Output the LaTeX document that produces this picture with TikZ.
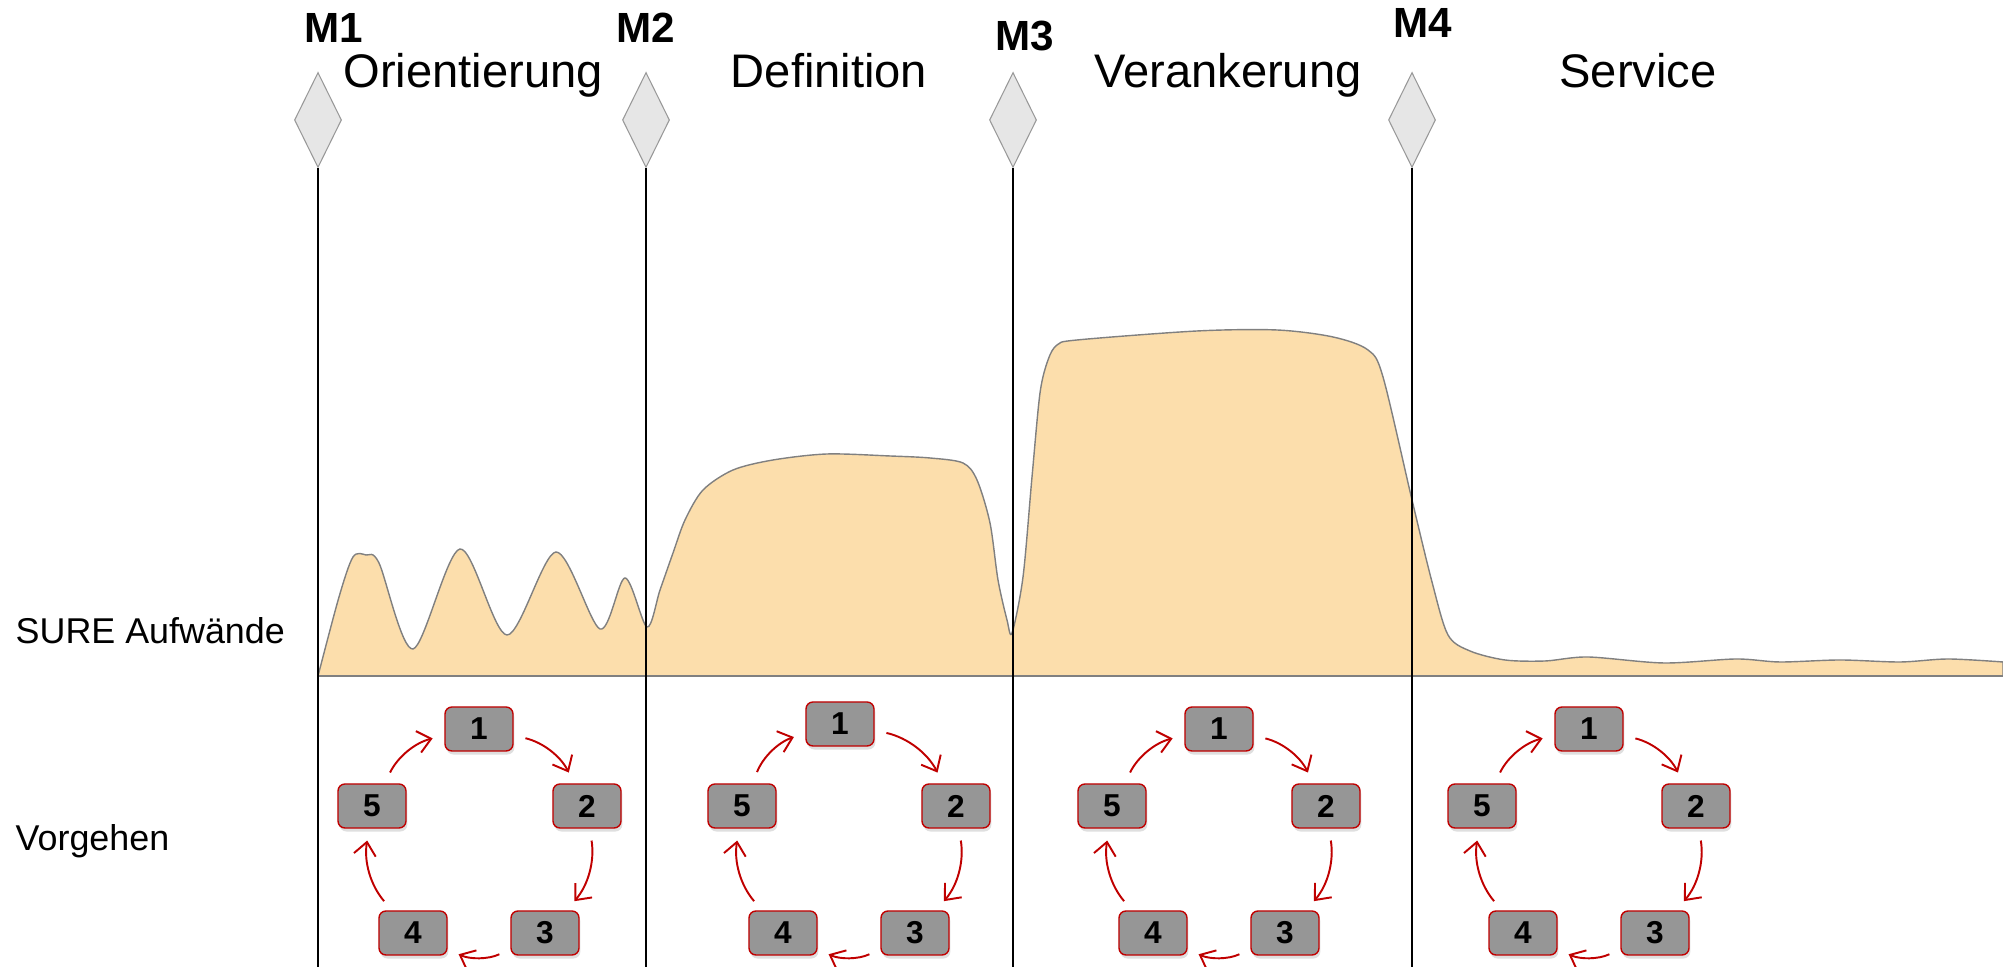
\documentclass[tikz,border=0pt]{standalone}
\usepackage{fontspec}
\setmainfont{Liberation Sans}
\usetikzlibrary{arrows.meta,shapes.geometric,shadows}

\definecolor{effort}{RGB}{252,222,172}
\definecolor{boxgray}{RGB}{150,150,150}
\definecolor{boxred}{RGB}{192,0,0}
\definecolor{msgray}{RGB}{230,230,230}

\begin{document}
\begin{tikzpicture}[x=0.01cm, y=0.01cm,
  milestone/.style={diamond, draw=gray!80, fill=msgray, line width=0.3pt, inner sep=0pt,
    minimum width=0.47cm, minimum height=0.95cm, aspect=0.5},
  msline/.style={black, line width=0.45pt},
  mslabel/.style={font=\fontsize{12}{14}\selectfont\bfseries, anchor=base west, inner sep=0pt},
  phase/.style={font=\fontsize{13.4}{16}\selectfont, anchor=base, inner sep=0pt},
  rowlabel/.style={font=\fontsize{10.2}{12}\selectfont, anchor=base west, inner sep=0pt},
  cycbox/.style={draw=boxred, fill=boxgray, line width=0.4pt, rounded corners=2pt,
    minimum width=0.68cm, minimum height=0.44cm, inner sep=0pt,
    font=\fontsize{9}{11}\selectfont\bfseries,
    drop shadow={shadow xshift=0.4pt, shadow yshift=-1pt, opacity=0.25}},
  cycarrow/.style={draw=boxred, line width=0.55pt, -{Straight Barb[length=1.3mm,width=2.2mm]},
    shorten <=0.12cm, shorten >=0.12cm, bend left=25}
]
\useasboundingbox (0,0) rectangle (2003,967);

% Effort curve (SURE Aufwaende)
\filldraw[fill=effort, draw=gray, line width=0.4pt] plot[smooth, tension=0.5] coordinates {
  (318,291) (339,370) (353,410) (366,412) (379,404) (413,318) (460,418) (507,332)
  (556,415) (600,338) (625,389) (647,340)
  (660,377) (673,414) (685,447) (703,477) (733,497) (773,507) (827,513) (890,511)
  (930,509) (963,504) (977,487) (990,444) (998,387) (1007,347) (1012,334)
  (1023,390) (1032,490) (1040,574) (1048,607) (1057,622) (1077,627) (1197,636)
  (1277,637) (1333,630) (1368,617) (1383,590) (1412,467) (1432,385) (1448,332)
  (1470,316) (1505,307) (1545,306) (1588,310) (1664,304) (1736,308) (1780,305)
  (1840,307) (1900,305) (1948,308) (2003,305)} -- (2003,291) -- cycle;

% Baseline
\coordinate (base l) at (318,291);
\coordinate (base r) at (2003,291);
\draw[gray, line width=0.5pt] (base l) -- (base r);

% Milestones
\node[milestone] (m1) at (318,847) {};
\node[milestone] (m2) at (646,847) {};
\node[milestone] (m3) at (1013,847) {};
\node[milestone] (m4) at (1412,847) {};
\coordinate (e1) at (318,0);
\coordinate (e2) at (646,0);
\coordinate (e3) at (1013,0);
\coordinate (e4) at (1412,0);
\draw[msline] (m1.south) -- (e1);
\draw[msline] (m2.south) -- (e2);
\draw[msline] (m3.south) -- (e3);
\draw[msline] (m4.south) -- (e4);

\node[mslabel] (lm1) at (304,924) {M1};
\node[mslabel] (lm2) at (616,924) {M2};
\node[mslabel] (lm3) at (995,916) {M3};
\node[mslabel] (lm4) at (1393,929) {M4};

% Phase titles
\node[phase] (t1) at (473,879) {Orientierung};
\node[phase] (t2) at (829,879) {Definition};
\node[phase] (t3) at (1228,879) {Verankerung};
\node[phase] (t4) at (1638,879) {Service};

% Row labels
\node[rowlabel] (aufw) at (15,323) {SURE Aufwände};
\node[rowlabel] (vorg) at (15,116) {Vorgehen};

% Cycle 1
\node[cycbox] (a1) at (479,238) {1};
\node[cycbox] (a2) at (587,161) {2};
\node[cycbox] (a3) at (545,34) {3};
\node[cycbox] (a4) at (413,34) {4};
\node[cycbox] (a5) at (372,161) {5};
\draw[cycarrow] (a1) to (a2);
\draw[cycarrow] (a2) to (a3);
\draw[cycarrow] (a3) to (a4);
\draw[cycarrow] (a4) to (a5);
\draw[cycarrow] (a5) to (a1);

% Cycle 2
\node[cycbox] (b1) at (840,243) {1};
\node[cycbox] (b2) at (956,161) {2};
\node[cycbox] (b3) at (915,34) {3};
\node[cycbox] (b4) at (783,34) {4};
\node[cycbox] (b5) at (742,161) {5};
\draw[cycarrow] (b1) to (b2);
\draw[cycarrow] (b2) to (b3);
\draw[cycarrow] (b3) to (b4);
\draw[cycarrow] (b4) to (b5);
\draw[cycarrow] (b5) to (b1);

% Cycle 3
\node[cycbox] (c1) at (1219,238) {1};
\node[cycbox] (c2) at (1326,161) {2};
\node[cycbox] (c3) at (1285,34) {3};
\node[cycbox] (c4) at (1153,34) {4};
\node[cycbox] (c5) at (1112,161) {5};
\draw[cycarrow] (c1) to (c2);
\draw[cycarrow] (c2) to (c3);
\draw[cycarrow] (c3) to (c4);
\draw[cycarrow] (c4) to (c5);
\draw[cycarrow] (c5) to (c1);

% Cycle 4
\node[cycbox] (d1) at (1589,238) {1};
\node[cycbox] (d2) at (1696,161) {2};
\node[cycbox] (d3) at (1655,34) {3};
\node[cycbox] (d4) at (1523,34) {4};
\node[cycbox] (d5) at (1482,161) {5};
\draw[cycarrow] (d1) to (d2);
\draw[cycarrow] (d2) to (d3);
\draw[cycarrow] (d3) to (d4);
\draw[cycarrow] (d4) to (d5);
\draw[cycarrow] (d5) to (d1);

\end{tikzpicture}
\end{document}
